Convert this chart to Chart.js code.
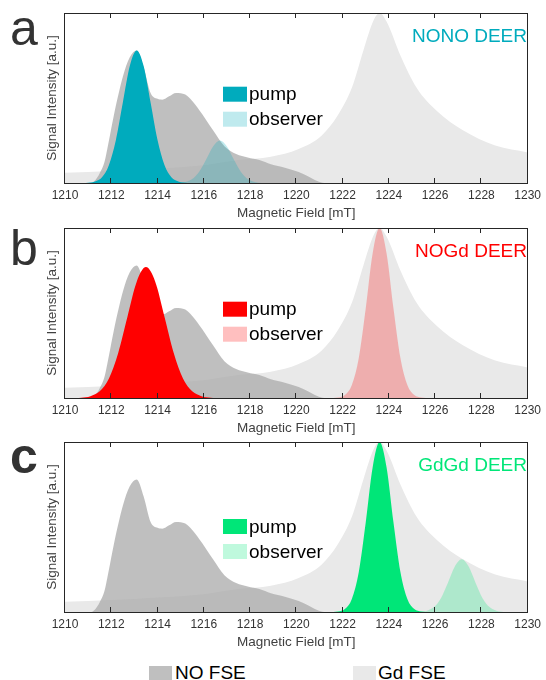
<!DOCTYPE html>
<html>
<head>
<meta charset="utf-8">
<script src="https://cdn.jsdelivr.net/npm/chart.js@4"></script>
<style>
  body { margin: 0; background: #fff; width: 546px; height: 680px; position: relative; overflow: hidden;
         font-family: "Liberation Sans", Arial, sans-serif; }
  canvas { position: absolute; left: 0; }
  .leg { position: absolute; font-size: 19px; line-height: 19px; color: #000; white-space: nowrap; }
  .sw { position: absolute; width: 23px; height: 14px; }
</style>
</head>
<body>
<canvas id="pa" width="546" height="221" style="top:0px"></canvas>
<canvas id="pb" width="546" height="221" style="top:215px"></canvas>
<canvas id="pc" width="546" height="221" style="top:429px"></canvas>
<div class="sw" style="left:149px;top:666px;background:rgb(191,191,191)"></div>
<div class="leg" style="left:175px;top:663px">NO FSE</div>
<div class="sw" style="left:353px;top:666px;background:rgb(233,233,233)"></div>
<div class="leg" style="left:378px;top:663px">Gd FSE</div>
<script>
// x axis ticks (mT)
var xTicks = [1210, 1212, 1214, 1216, 1218, 1220, 1222, 1224, 1226, 1228, 1230];

// nitroxide field-swept echo
var fieldNO = [1210, 1211.1, 1211.3, 1211.5, 1211.7, 1211.9, 1212.1, 1212.5, 1212.8, 1213.1, 1213.4, 1213.7,
               1214.0, 1214.2, 1214.5, 1214.8, 1215.2, 1215.8, 1216.4, 1216.9, 1217.4, 1217.9, 1218.4,
               1218.9, 1219.5, 1220.1, 1220.5, 1220.9, 1221.2, 1230];
var noFSE = [0, 0, 0.015, 0.057, 0.12, 0.25, 0.39, 0.625, 0.74, 0.78, 0.68, 0.53,
             0.495, 0.49, 0.51, 0.53, 0.52, 0.43, 0.31, 0.215, 0.17, 0.15, 0.135,
             0.11, 0.09, 0.065, 0.04, 0.012, 0, 0];

// Gd field-swept echo
var fieldGd = [1210, 1212, 1214, 1216, 1217.5, 1218.9, 1220.1, 1221.1, 1221.8, 1222.4, 1222.9, 1223.35,
               1223.6, 1223.9, 1224.5, 1225.2, 1226.1, 1227.2, 1228.6, 1230];
var gdFSE = [0.06, 0.07, 0.085, 0.105, 0.135, 0.155, 0.2, 0.28, 0.4, 0.56, 0.78, 0.96,
             1.0, 0.95, 0.75, 0.56, 0.42, 0.31, 0.22, 0.18];

// a: NONO DEER
var fieldPumpA = [1210.9, 1211.3, 1211.6, 1211.9, 1212.2, 1212.5, 1212.8, 1213.1, 1213.4, 1213.7, 1214.0, 1214.3, 1214.6, 1214.9, 1215.3];
var pumpA = [0, 0.009, 0.034, 0.106, 0.253, 0.473, 0.688, 0.78, 0.688, 0.473, 0.253, 0.106, 0.034, 0.009, 0];
var fieldObsA = [1214.9, 1215.2, 1215.5, 1215.8, 1216.1, 1216.4, 1216.7, 1217.0, 1217.3, 1217.6, 1217.9, 1218.2, 1218.5];
var obsA = [0, 0.006, 0.023, 0.066, 0.138, 0.215, 0.25, 0.215, 0.138, 0.066, 0.023, 0.006, 0];

// b: NOGd DEER
var fieldPumpB = [1210.5, 1210.7, 1211.1, 1211.5, 1211.9, 1212.3, 1212.7, 1213.1, 1213.5, 1213.9, 1214.3, 1214.7, 1215.1, 1215.5, 1215.9, 1216.3, 1216.5];
var pumpB = [0, 0.002, 0.011, 0.039, 0.115, 0.264, 0.478, 0.684, 0.77, 0.684, 0.478, 0.264, 0.115, 0.039, 0.011, 0.002, 0];
var fieldObsB = [1221.6, 1221.8, 1222.1, 1222.4, 1222.7, 1223.0, 1223.3, 1223.6, 1223.9, 1224.2, 1224.5, 1224.8, 1225.1, 1225.4, 1225.6];
var obsB = [0, 0.003, 0.018, 0.077, 0.236, 0.527, 0.852, 1.0, 0.852, 0.527, 0.236, 0.077, 0.018, 0.003, 0];

// c: GdGd DEER
var fieldPumpC = [1221.6, 1221.8, 1222.1, 1222.4, 1222.7, 1223.0, 1223.3, 1223.6, 1223.9, 1224.2, 1224.5, 1224.8, 1225.1, 1225.4, 1225.6];
var pumpC = [0, 0.003, 0.018, 0.077, 0.236, 0.527, 0.852, 1.0, 0.852, 0.527, 0.236, 0.077, 0.018, 0.003, 0];
var fieldObsC = [1225.35, 1225.65, 1225.95, 1226.25, 1226.55, 1226.85, 1227.15, 1227.45, 1227.75, 1228.05, 1228.35, 1228.65, 1228.95];
var obsC = [0, 0.0075, 0.029, 0.081, 0.171, 0.267, 0.31, 0.267, 0.171, 0.081, 0.029, 0.0075, 0];

Chart.defaults.font.family = '"Liberation Sans", Arial, sans-serif';

function pts(xs, ys) {
    return xs.map(function (x, i) { return { x: x, y: ys[i] }; });
}

function area(label, xs, ys, color) {
    return {
        label: label,
        data: pts(xs, ys),
        backgroundColor: color,
        borderColor: 'transparent',
        borderWidth: 0,
        pointRadius: 0,
        fill: 'origin',
        cubicInterpolationMode: 'monotone'
    };
}

// frame, inward ticks, panel letter, title and the pump/observer key
var panelDeco = {
    id: 'panelDeco',
    afterDraw: function (chart, args, o) {
        var ctx = chart.ctx, a = chart.chartArea, x = chart.scales.x;
        var l = Math.round(a.left), r = Math.round(a.right), t = Math.round(a.top), b = Math.round(a.bottom);
        ctx.save();
        ctx.fillStyle = '#262626';
        ctx.fillRect(l - 1, t, 1, b - t + 1);
        ctx.fillRect(r - 1, t, 1, b - t + 1);
        ctx.fillRect(l - 1, t, r - l + 1, 1);
        ctx.fillRect(l - 1, b, r - l + 1, 1);
        x.ticks.forEach(function (tk) {
            var px = Math.round(x.getPixelForValue(tk.value)) - 1;
            ctx.fillRect(px, b - 5, 1, 5);
            ctx.fillRect(px, t + 1, 1, 4);
        });

        ctx.fillStyle = '#333';
        ctx.textAlign = 'left';
        ctx.textBaseline = 'alphabetic';
        ctx.font = o.letterWeight + ' 50px "Liberation Sans", Arial, sans-serif';
        ctx.fillText(o.letter, 10, o.letterY);

        ctx.font = '19px "Liberation Sans", Arial, sans-serif';
        ctx.fillStyle = o.color;
        ctx.textAlign = 'right';
        ctx.fillText(o.title, 527, 41.5);

        var ds = chart.data.datasets;
        [[1, 'pump'], [0, 'observer']].forEach(function (e, k) {
            var y = o.legendY + k * 25;
            ctx.fillStyle = ds[e[0]].backgroundColor;
            ctx.fillRect(223, y, 24, 15);
            ctx.fillStyle = '#000';
            ctx.textAlign = 'left';
            ctx.fillText(e[1], 249, y + 13.5);
        });
        ctx.restore();
    }
};

function makePanel(id, deco, pumpX, pumpY, obsX, obsY, pumpColor, obsColor) {
    var ctx = document.getElementById(id).getContext('2d');
    return new Chart(ctx, {
        type: 'line',
        data: {
            datasets: [
                area('observer', obsX, obsY, obsColor),
                area('pump', pumpX, pumpY, pumpColor),
                area('NO FSE', fieldNO, noFSE, 'rgba(170,170,170,0.75)'),
                area('Gd FSE', fieldGd, gdFSE, 'rgb(233,233,233)')
            ]
        },
        options: {
            responsive: false,
            animation: false,
            devicePixelRatio: 1,
            layout: { padding: { left: 44, right: 15, top: 13, bottom: 0 } },
            plugins: { legend: { display: false }, tooltip: { enabled: false }, panelDeco: deco },
            scales: {
                x: {
                    type: 'linear',
                    min: 1210,
                    max: 1230,
                    afterBuildTicks: function (s) { s.ticks = xTicks.map(function (v) { return { value: v }; }); },
                    afterFit: function (s) { s.height = 38; },
                    grid: { display: false, drawTicks: false },
                    border: { display: false },
                    ticks: {
                        padding: 5,
                        maxRotation: 0,
                        autoSkip: false,
                        color: '#333',
                        font: { size: 12 },
                        callback: function (v) { return String(v); }
                    },
                    title: {
                        display: true,
                        text: 'Magnetic Field [mT]',
                        color: '#404040',
                        font: { size: 13.5 },
                        padding: 0
                    }
                },
                y: {
                    min: 0,
                    max: 1,
                    afterFit: function (s) { s.width = 21; },
                    grid: { display: false, drawTicks: false },
                    border: { display: false },
                    ticks: { display: false },
                    title: {
                        display: true,
                        text: 'Signal Intensity [a.u.]',
                        color: '#404040',
                        font: { size: 13.5 },
                        padding: 0
                    }
                }
            }
        },
        plugins: [panelDeco]
    });
}

makePanel('pa', { letter: 'a', letterWeight: 'normal', letterY: 45, title: 'NONO DEER', color: 'rgb(0,171,189)', legendY: 86.7 },
    fieldPumpA, pumpA, fieldObsA, obsA, 'rgb(0,171,189)', 'rgba(0,171,189,0.25)');
makePanel('pb', { letter: 'b', letterWeight: 'normal', letterY: 50, title: 'NOGd DEER', color: 'rgb(255,0,0)', legendY: 86.7 },
    fieldPumpB, pumpB, fieldObsB, obsB, 'rgb(255,0,0)', 'rgba(255,0,0,0.25)');
makePanel('pc', { letter: 'c', letterWeight: 'bold', letterY: 44, title: 'GdGd DEER', color: 'rgb(0,230,120)', legendY: 90 },
    fieldPumpC, pumpC, fieldObsC, obsC, 'rgb(0,230,120)', 'rgba(0,230,120,0.25)');
</script>
</body>
</html>
